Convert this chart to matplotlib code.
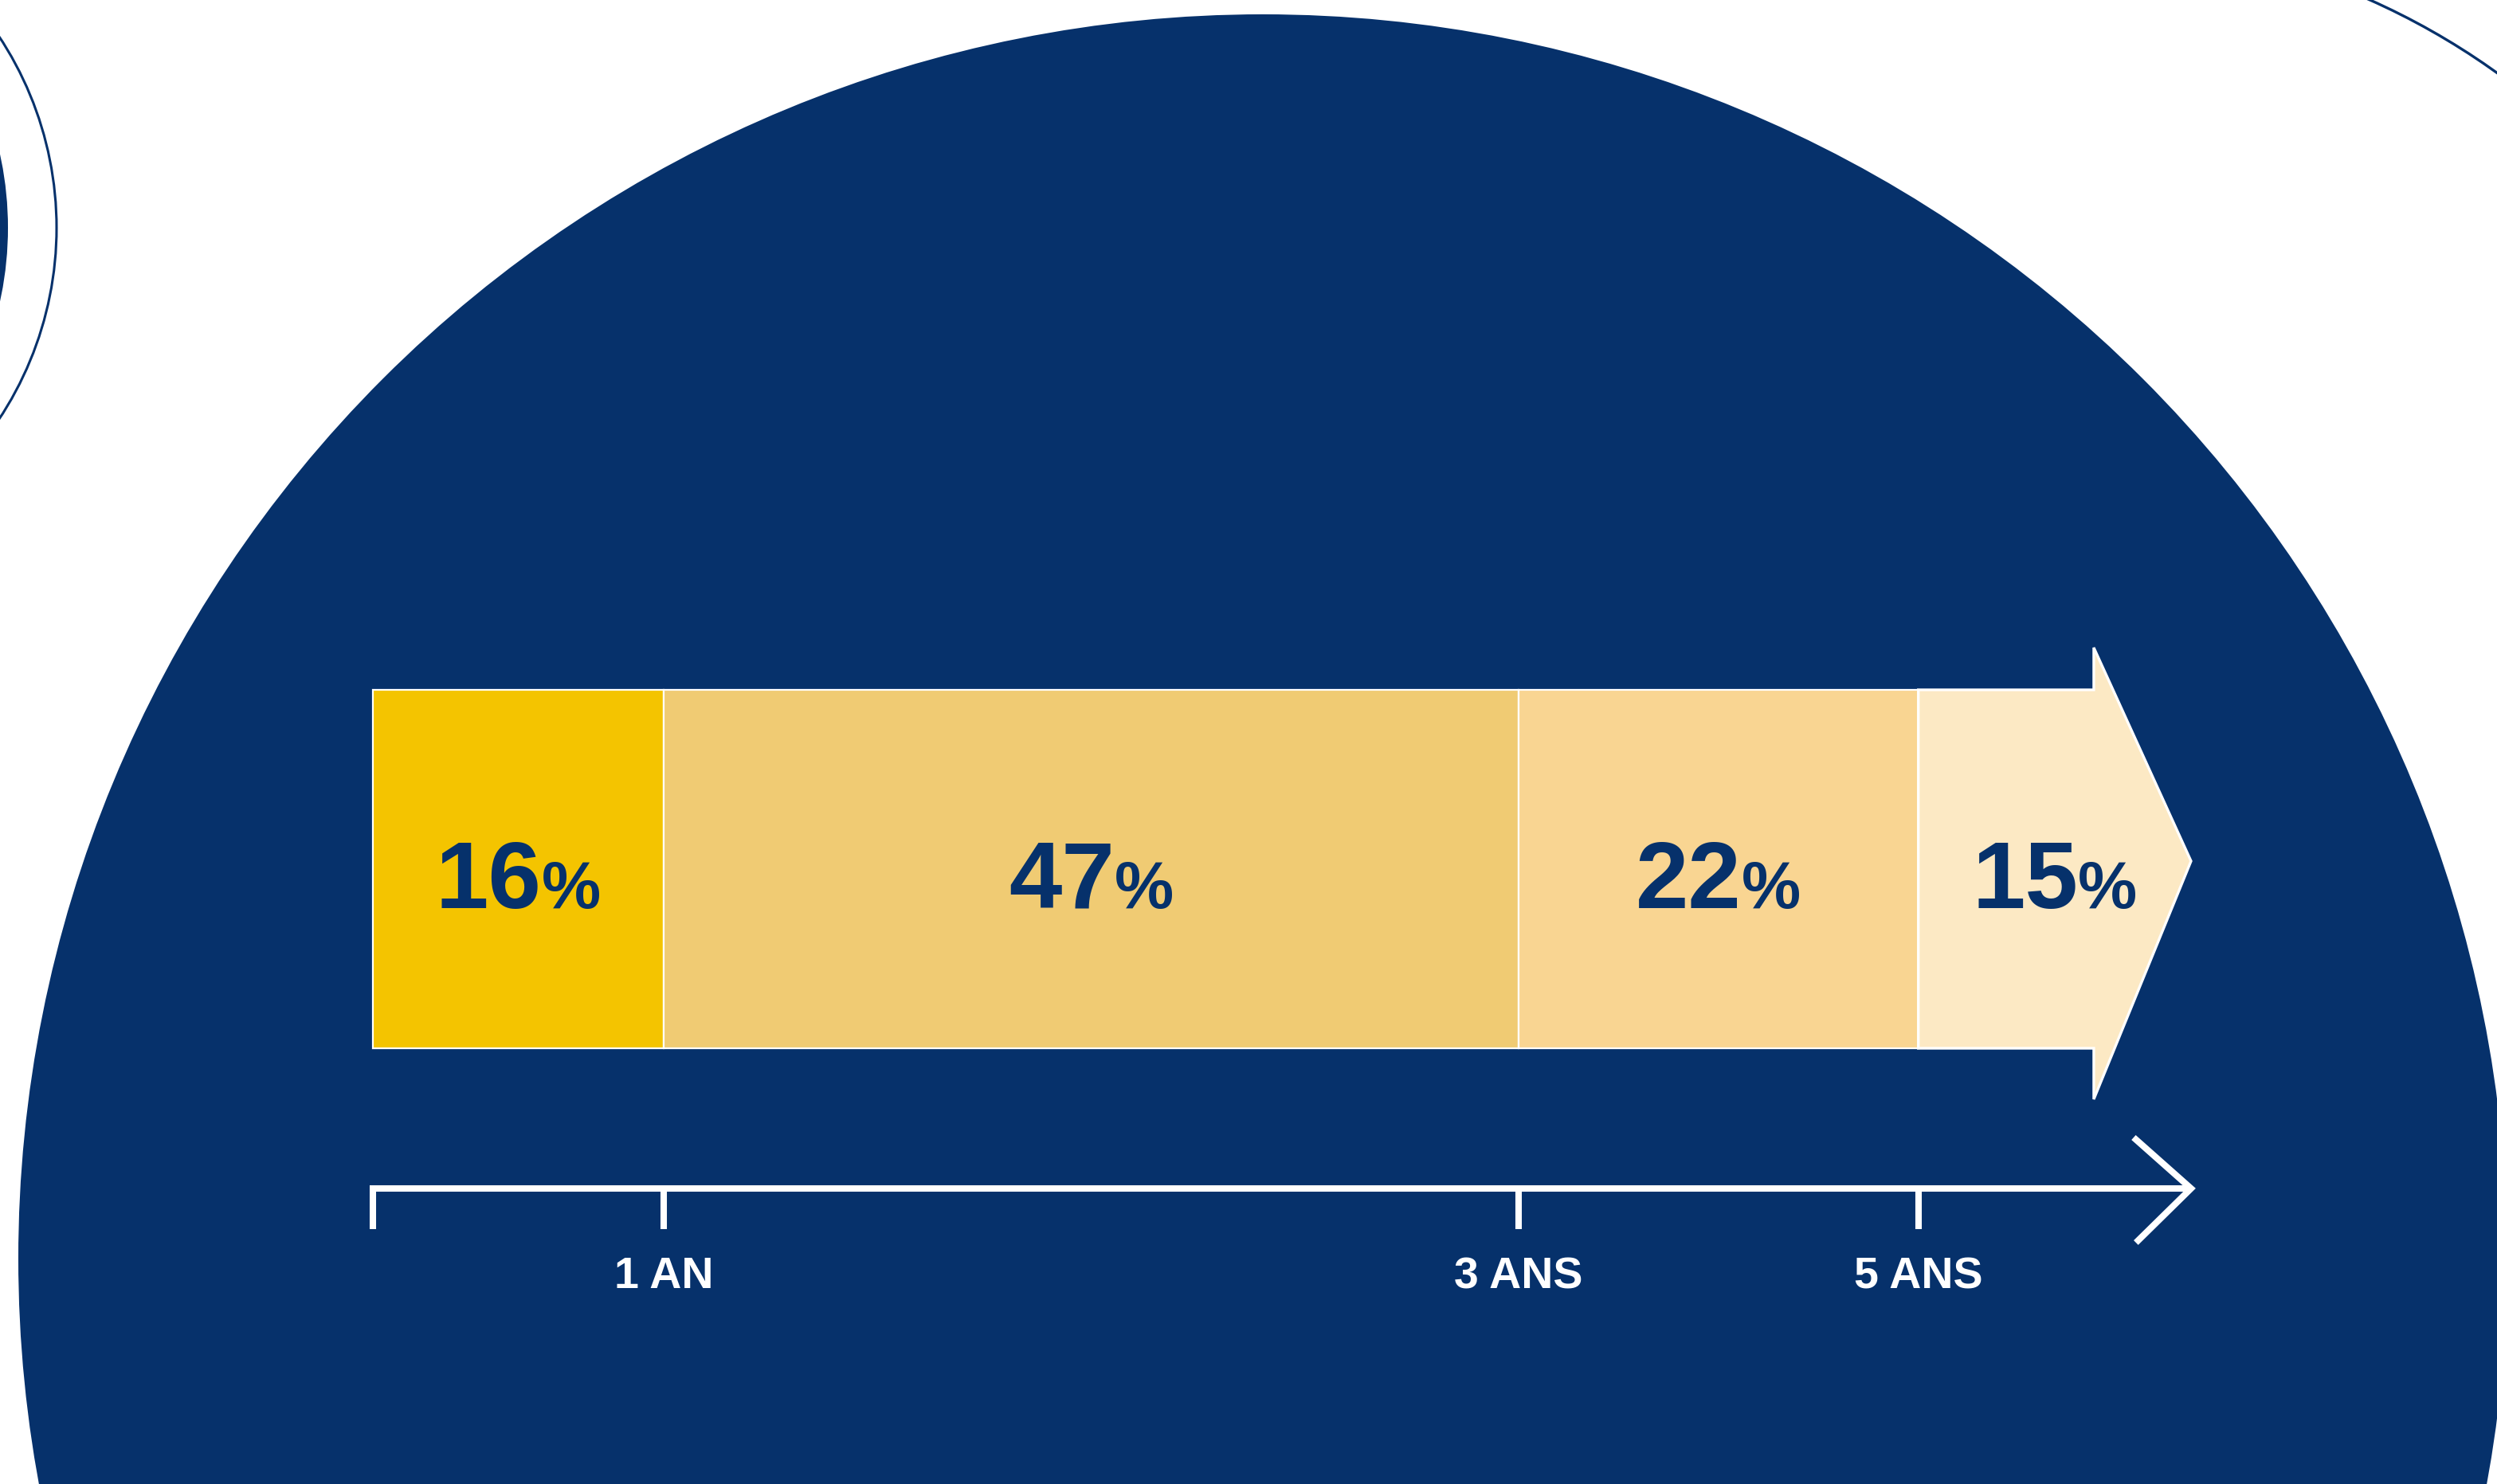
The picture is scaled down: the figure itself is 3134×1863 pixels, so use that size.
import matplotlib
matplotlib.use('Agg')
import matplotlib.pyplot as plt
from matplotlib.patches import Circle, Polygon, Rectangle

# répartition par horizon (en %)
shares = [16, 47, 22, 15]
colors = ['#f4c400', '#f0cb73', '#f9d592', '#fce9c4']
tick_pos = [0, 16, 63, 85]
tick_labels = ['', '1 AN', '3 ANS', '5 ANS']

NAVY = '#06316b'
W, H = 3134, 1863
PX = 22.82  # pixels par point de %

fig = plt.figure(figsize=(W / 100, H / 100), dpi=100)
fig.patch.set_facecolor('white')

# décor : cercles
bg = fig.add_axes([0, 0, 1, 1])
bg.set_xlim(0, W)
bg.set_ylim(H, 0)
bg.axis('off')
bg.add_patch(Circle((1585, 1580), 1562, color=NAVY, lw=0))
bg.add_patch(Circle((-423, 286), 433, color=NAVY, lw=0))
bg.add_patch(Circle((-365, 286), 436, fill=False, ec=NAVY, lw=2.2))
clip = Rectangle((2900, 0), 240, 250, transform=bg.transData)
arc = Circle((2608, 823), 901, fill=False, ec=NAVY, lw=2.4)
bg.add_patch(arc)
arc.set_clip_path(clip)

# graphique
ax = fig.add_axes([0, 0, 1, 1])
ax.patch.set_alpha(0)
x0 = -468 / PX
ax.set_xlim(x0, x0 + W / PX)
ax.set_ylim(H, 0)
ax.axis('off')

lefts = [sum(shares[:i]) for i in range(len(shares))]
end = lefts[-1] + shares[-1]
ax.barh(1091, shares[:3], left=lefts[:3], height=450, color=colors[:3],
        edgecolor='white', linewidth=1.6)
neck = end - 5.35
ax.add_patch(Polygon([(lefts[3], 866), (neck, 866), (neck, 813), (end, 1081),
                      (neck, 1380), (neck, 1316), (lefts[3], 1316)],
                     closed=True, fc=colors[3], ec='white', lw=2.4))

# étiquettes de pourcentage
fig.canvas.draw()
r = fig.canvas.get_renderer()
inv = ax.transData.inverted()
for left, v in zip(lefts, shares):
    cx = left + v / 2 if left + v < end else (left + end) / 2
    t1 = ax.text(cx, 1140, str(v), fontsize=86, color=NAVY, ha='left',
                 va='baseline', family='Liberation Sans', fontweight='bold')
    t2 = ax.text(cx, 1140, '%', fontsize=60, color=NAVY, ha='left',
                 va='baseline', family='Liberation Sans', fontweight='bold')
    w1 = t1.get_window_extent(r).width
    w2 = t2.get_window_extent(r).width
    px, py = ax.transData.transform((cx, 1140))
    start = px - (w1 + w2) / 2
    t1.set_position(inv.transform((start, py)))
    t2.set_position(inv.transform((start + w1, py)))

# axe du temps
ax.plot([0, 0, end], [1543, 1492, 1492], color='white', lw=5.8,
        solid_joinstyle='miter', solid_capstyle='butt')
for t in tick_pos[1:]:
    ax.plot([t, t], [1492, 1543], color='white', lw=5.8, solid_capstyle='butt')
ax.plot([end - 3.16, end, end - 3.03], [1428, 1492, 1560], color='white',
        lw=5.8, solid_joinstyle='miter', solid_capstyle='butt')
for t, lab in zip(tick_pos, tick_labels):
    ax.text(t, 1617, lab, ha='center', va='baseline', color='white',
            fontsize=40, fontweight='bold', family='Liberation Sans')

fig.savefig('out.png', dpi=100, facecolor='white')
